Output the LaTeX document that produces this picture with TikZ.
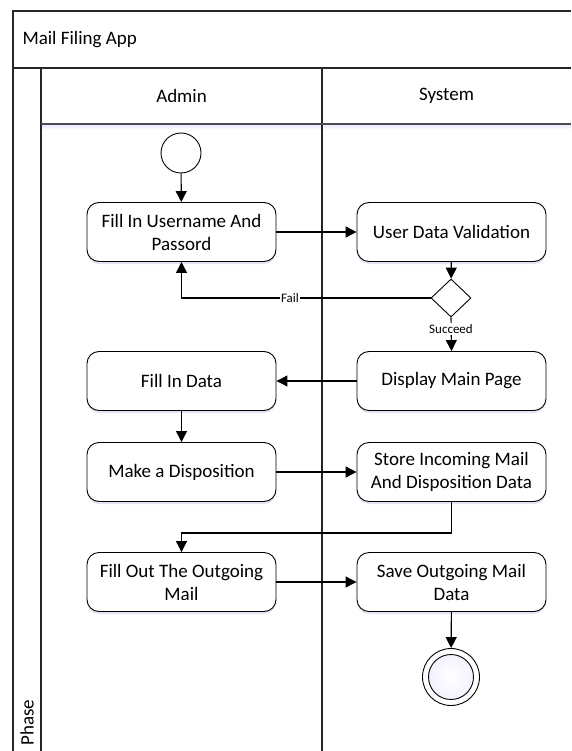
\documentclass[tikz,border=0pt]{standalone}
\usepackage{fontspec}
\setmainfont{Carlito}
\usetikzlibrary{arrows.meta,shapes.geometric,shadows}
\begin{document}
\begin{tikzpicture}[x=1pt,y=-1pt,
  frame/.style={line width=1.1pt,draw=black!85},
  big/.style={font=\fontsize{19}{23}\selectfont},
  act/.style={draw,line width=0.9pt,rounded corners=12pt,fill=white,
    minimum width=189pt,minimum height=59pt,align=center,big,
    inner sep=2pt,
    drop shadow={shadow xshift=0pt,shadow yshift=-2.5pt,fill=blue!40!gray,opacity=0.15}},
  flow/.style={line width=1.1pt,-{Triangle[length=11pt,width=11pt]}},
  lbl/.style={fill=white,inner sep=1pt,font=\fontsize{13}{15}\selectfont},
  decide/.style={draw,diamond,line width=0.9pt,fill=white,minimum width=40pt,minimum height=38pt,inner sep=0pt}
]
\useasboundingbox (0,0) rectangle (571,751);

% pool header and lane frame
\shade[top color=blue!8,bottom color=white] (41,125) rectangle (571,130);
\draw[frame] (571,11) -- (13,11) -- (13,751);
\draw[frame] (13,68) -- (571,68);
\draw[frame] (41,68) -- (41,751);
\draw[frame] (322,68) -- (322,751);
\draw[frame,draw=black!70,line width=1.4pt] (41,124) -- (571,124);

\node[anchor=west,big] (pool) at (19,40) {Mail Filing App};
\node[big] (adminlane) at (181.5,96) {Admin};
\node[big] (systemlane) at (446.5,96) {System};
\node[rotate=90,anchor=west,big] (phase) at (27,749) {Phase};

% activities
\node[draw,circle,line width=0.9pt,minimum size=40pt,inner sep=0pt,fill=white] (start) at (181,153) {};
\node[act] (login) at (181.5,232) {Fill In Username And\\Passord};
\node[act] (validate) at (451.5,232) {User Data Validation};
\node[decide] (check) at (451,298) {};
\node[act] (mainpage) at (451.5,381) {Display Main Page};
\node[act] (filldata) at (181.5,381) {Fill In Data};
\node[act] (dispo) at (181.5,472) {Make a Disposition};
\node[act] (store) at (451.5,472) {Store Incoming Mail\\And Disposition Data};
\node[act] (outgoing) at (181.5,582) {Fill Out The Outgoing\\Mail};
\node[act] (save) at (451.5,582) {Save Outgoing Mail\\Data};
\node[draw,circle,line width=0.9pt,minimum size=57pt,inner sep=0pt,fill=white] (finish) at (451,677) {};
\node[draw,circle,line width=0.9pt,minimum size=45pt,inner sep=0pt,inner color=white,outer color=blue!5] (finishin) at (451,677) {};

% control flow
\draw[flow] (start) -- (login);
\draw[flow] (login) -- (validate);
\draw[flow] (validate) -- (check);
\draw[flow] (check.west) -| (login.south);
\node[lbl] (faillbl) at (290,298) {Fail};
\draw[flow] (check.south) -- (mainpage.north);
\node[lbl] (oklbl) at (451,329) {Succeed};
\draw[flow] (mainpage) -- (filldata);
\draw[flow] (filldata) -- (dispo);
\draw[flow] (dispo) -- (store);
\coordinate (bend) at (451.5,533);
\draw[flow] (store.south) -- (bend) -| (outgoing.north);
\draw[flow] (outgoing) -- (save);
\draw[flow] (save) -- (finish);
\end{tikzpicture}
\end{document}
